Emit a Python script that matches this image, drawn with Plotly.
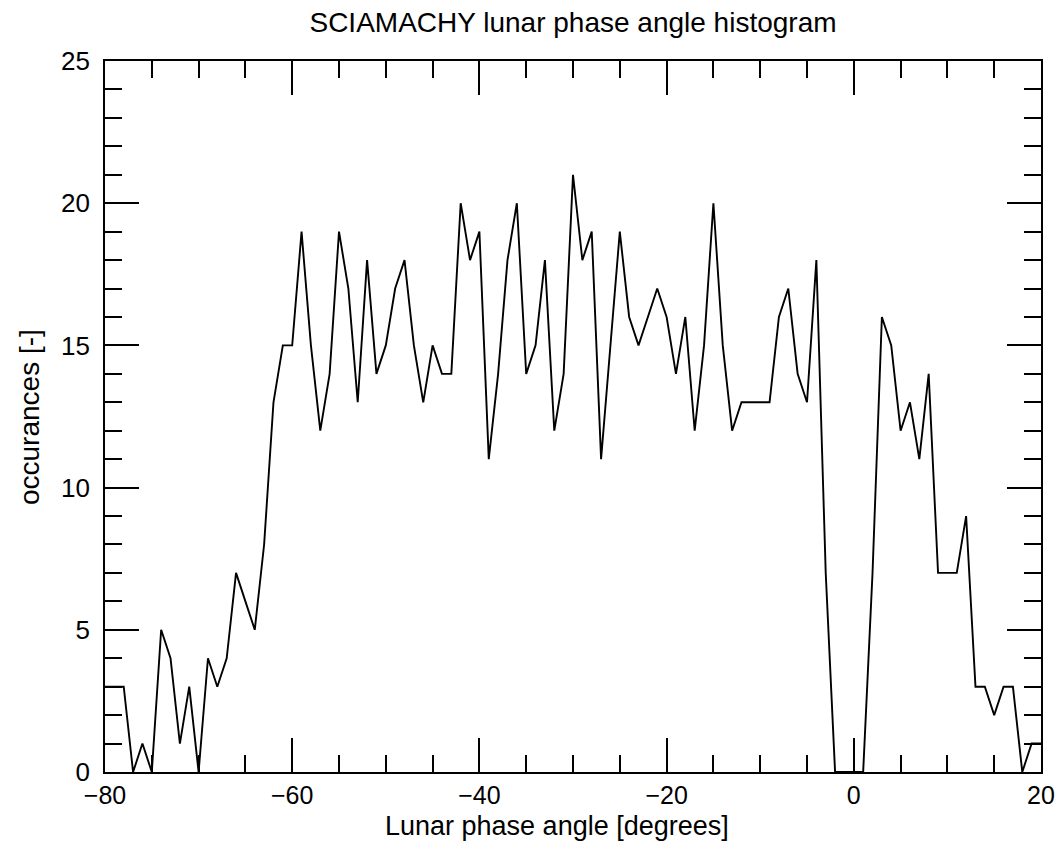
import plotly.graph_objects as go

# Lunar phase angle bins (degrees) and number of occurrences per bin
phase_angle = list(range(-80, 21))
occurrences = [
    3, 3, 3, 0, 1, 0, 5, 4, 1, 3,          # -80 .. -71
    0, 4, 3, 4, 7, 6, 5, 8, 13, 15,        # -70 .. -61
    15, 19, 15, 12, 14, 19, 17, 13, 18, 14,  # -60 .. -51
    15, 17, 18, 15, 13, 15, 14, 14, 20, 18,  # -50 .. -41
    19, 11, 14, 18, 20, 14, 15, 18, 12, 14,  # -40 .. -31
    21, 18, 19, 11, 15, 19, 16, 15, 16, 17,  # -30 .. -21
    16, 14, 16, 12, 15, 20, 15, 12, 13, 13,  # -20 .. -11
    13, 13, 16, 17, 14, 13, 18, 7, 0, 0,     # -10 .. -1
    0, 0, 7, 16, 15, 12, 13, 11, 14, 7,      # 0 .. 9
    7, 7, 9, 3, 3, 2, 3, 3, 0, 1,            # 10 .. 19
    1,                                       # 20
]

x_range = [-80, 20]
y_range = [0, 25]

FONT = "Liberation Sans, Arial, Helvetica, sans-serif"

fig = go.Figure(
    go.Scatter(
        x=phase_angle,
        y=occurrences,
        mode="lines",
        line=dict(color="black", width=1.9),
        showlegend=False,
        hoverinfo="x+y",
    )
)

axis_common = dict(
    showgrid=False,
    zeroline=False,
    showline=True,
    linecolor="black",
    linewidth=1.8,
    mirror="allticks",
    ticks="inside",
    ticklen=34,
    tickwidth=1.5,
    tickcolor="black",
    tickfont=dict(family=FONT, size=26, color="black"),
    automargin=False,
)

fig.update_xaxes(
    range=x_range,
    tick0=-80,
    dtick=20,
    ticklabelstandoff=0,
    minor=dict(dtick=5, ticks="inside", ticklen=17, tickwidth=1.5, tickcolor="black"),
    **axis_common,
)
fig.update_xaxes(tickfont_size=25)
fig.update_yaxes(
    range=y_range,
    tick0=0,
    dtick=5,
    ticklabelstandoff=8,
    minor=dict(dtick=1, ticks="inside", ticklen=17, tickwidth=1.5, tickcolor="black"),
    **axis_common,
)

# Axis titles placed as annotations relative to the plot area
axis_titles = [
    dict(text="Lunar phase angle [degrees]", x=0.4834, y=-0.052, size=27,
         textangle=0, xanchor="center", yanchor="top"),
    dict(text="occurances [-]", x=-0.0801, y=0.4993, size=28,
         textangle=-90, xanchor="center", yanchor="middle"),
]

fig.update_layout(
    width=1058,
    height=841,
    margin=dict(l=105, r=17, t=61, b=69),
    paper_bgcolor="white",
    plot_bgcolor="white",
    title=dict(
        text="SCIAMACHY lunar phase angle histogram",
        font=dict(family=FONT, size=28, color="black"),
        x=0.5, xref="paper", xanchor="center",
        y=0.974, yref="container", yanchor="middle",
    ),
    annotations=[
        dict(
            text=t["text"], x=t["x"], y=t["y"], xref="paper", yref="paper",
            xanchor=t["xanchor"], yanchor=t["yanchor"], textangle=t["textangle"],
            showarrow=False, font=dict(family=FONT, size=t["size"], color="black"),
        )
        for t in axis_titles
    ],
)

fig.write_html("out.html")
